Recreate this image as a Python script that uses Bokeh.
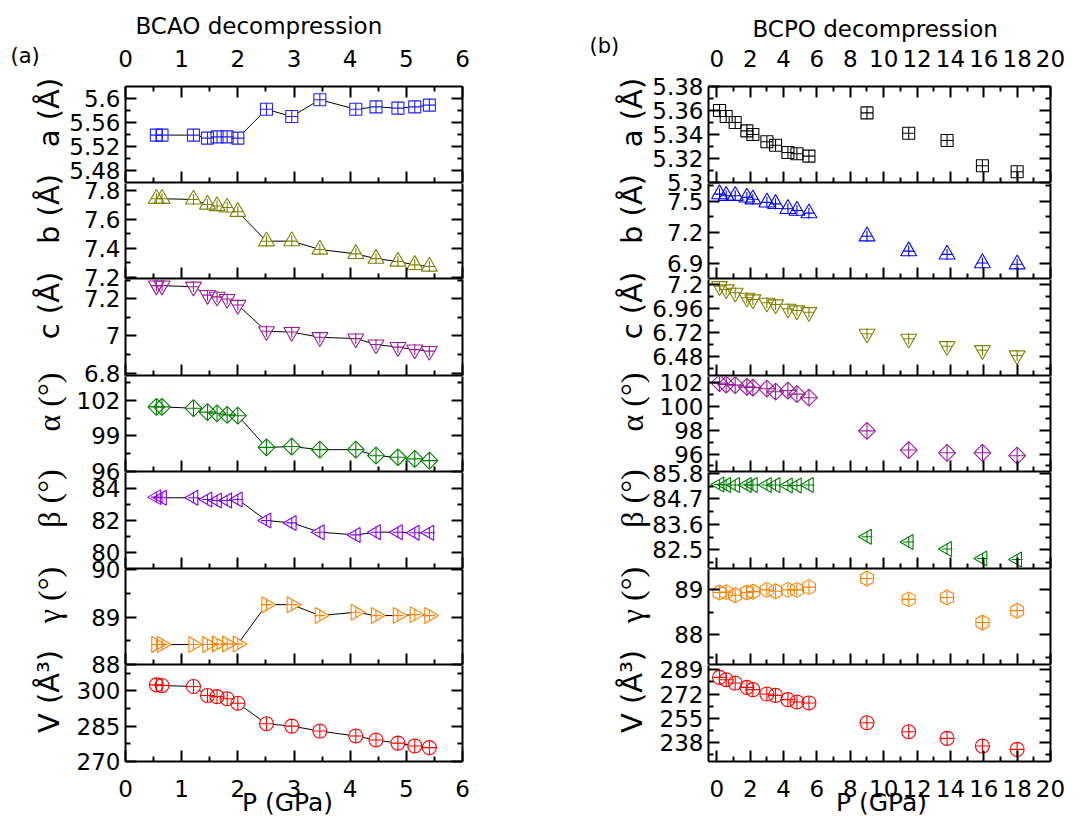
import math
from bokeh.plotting import figure
from bokeh.layouts import row, column
from bokeh.models import (Range1d, LinearAxis, FixedTicker, CustomJSTickFormatter,
                          Label, ColumnDataSource)
from bokeh.embed import file_html
from bokeh.resources import INLINE

# ---------------- BCAO decompression (panel a) ----------------
bcao_P = [0.55, 0.65, 1.21, 1.46, 1.63, 1.81, 2.0, 2.51, 2.96, 3.46, 4.1, 4.46, 4.85, 5.15, 5.41]
bcao_a = [5.539, 5.539, 5.539, 5.534, 5.536, 5.536, 5.534, 5.582, 5.570, 5.598, 5.582, 5.586, 5.584, 5.586, 5.589]
bcao_b = [7.74, 7.74, 7.735, 7.70, 7.69, 7.68, 7.65, 7.447, 7.448, 7.39, 7.36, 7.327, 7.307, 7.284, 7.273]
bcao_c = [7.27, 7.27, 7.264, 7.219, 7.21, 7.198, 7.166, 7.025, 7.021, 6.993, 6.986, 6.954, 6.94, 6.927, 6.919]
bcao_alpha = [101.44, 101.44, 101.33, 101.0, 100.9, 100.77, 100.7, 98.03, 98.1, 97.84, 97.84, 97.33, 97.2, 97.06, 96.92]
bcao_beta = [83.46, 83.42, 83.42, 83.31, 83.25, 83.25, 83.31, 82.0, 81.85, 81.27, 81.1, 81.27, 81.27, 81.23, 81.23]
bcao_gamma = [88.42, 88.42, 88.42, 88.42, 88.43, 88.43, 88.43, 89.26, 89.26, 89.03, 89.1, 89.03, 89.03, 89.05, 89.03]
bcao_V = [302.5, 302.2, 301.8, 298.0, 297.5, 296.6, 294.7, 286.0, 285.0, 282.9, 280.8, 279.1, 277.8, 276.6, 275.9]

# ---------------- BCPO decompression (panel b) ----------------
bcpo_P = [0.16, 0.56, 1.1, 1.8, 2.16, 3.0, 3.52, 4.26, 4.8, 5.52, 9.0, 11.5, 13.8, 15.92, 18.0]
bcpo_a = [5.36, 5.355, 5.350, 5.343, 5.340, 5.334, 5.331, 5.325, 5.324, 5.322, 5.358, 5.341, 5.335, 5.314, 5.309]
bcpo_b = [7.57, 7.554, 7.554, 7.538, 7.52, 7.49, 7.475, 7.427, 7.41, 7.385, 7.16, 7.016, 6.984, 6.9, 6.888]
bcpo_c = [7.183, 7.15, 7.117, 7.067, 7.05, 7.017, 7.0, 6.957, 6.94, 6.923, 6.707, 6.657, 6.583, 6.543, 6.49]
bcpo_alpha = [101.92, 101.8, 101.75, 101.6, 101.55, 101.45, 101.2, 101.3, 101.0, 100.7, 97.93, 96.33, 96.1, 96.1, 95.86]
bcpo_beta = [85.32, 85.3, 85.3, 85.3, 85.3, 85.3, 85.3, 85.28, 85.28, 85.3, 83.07, 82.84, 82.54, 82.13, 82.09]
bcpo_gamma = [88.93, 88.94, 88.87, 88.93, 88.95, 88.99, 88.96, 88.99, 88.99, 89.05, 89.24, 88.78, 88.82, 88.27, 88.53]
bcpo_V = [283.7, 282.0, 279.7, 276.7, 275.1, 272.0, 271.1, 268.1, 266.5, 265.8, 251.9, 245.6, 241.0, 235.6, 233.3]

# ---------------- axis ranges and ticks ----------------
bcao_x_range = [0, 6]
bcao_x_ticks = [0, 1, 2, 3, 4, 5, 6]
bcao_x_minor = [0.5, 1.5, 2.5, 3.5, 4.5, 5.5]
bcpo_x_range = [-0.5, 20]
bcpo_x_ticks = [0, 2, 4, 6, 8, 10, 12, 14, 16, 18, 20]
bcpo_x_minor = [1, 3, 5, 7, 9, 11, 13, 15, 17, 19]

bcao_a_range, bcao_a_ticks, bcao_a_minor = [5.46, 5.62], [5.48, 5.52, 5.56, 5.6], [5.5, 5.54, 5.58]
bcao_b_range, bcao_b_ticks, bcao_b_minor = [7.19, 7.845], [7.2, 7.4, 7.6, 7.8], [7.3, 7.5, 7.7]
bcao_c_range, bcao_c_ticks, bcao_c_minor = [6.788, 7.303], [6.8, 7.0, 7.2], [6.9, 7.1, 7.3]
bcao_alpha_range, bcao_alpha_ticks, bcao_alpha_minor = [96, 104], [96, 99, 102], [97.5, 100.5, 103.5]
bcao_beta_range, bcao_beta_ticks, bcao_beta_minor = [79, 85], [80, 82, 84], [81, 83]
bcao_gamma_range, bcao_gamma_ticks, bcao_gamma_minor = [88, 90], [88, 89, 90], [88.5, 89.5]
bcao_V_range, bcao_V_ticks, bcao_V_minor = [270, 310.7], [270, 285, 300], [277.5, 292.5, 307.5]

bcpo_a_range, bcpo_a_ticks, bcpo_a_minor = [5.30, 5.38], [5.3, 5.32, 5.34, 5.36, 5.38], [5.31, 5.33, 5.35, 5.37]
bcpo_b_range, bcpo_b_ticks, bcpo_b_minor = [6.75, 7.673], [6.9, 7.2, 7.5], [7.05, 7.35, 7.65]
bcpo_c_range, bcpo_c_ticks, bcpo_c_minor = [6.29, 7.25], [6.48, 6.72, 6.96, 7.2], [6.36, 6.6, 6.84, 7.08]
bcpo_alpha_range, bcpo_alpha_ticks, bcpo_alpha_minor = [94.54, 102.47], [96, 98, 100, 102], [95, 97, 99, 101]
bcpo_beta_range, bcpo_beta_ticks, bcpo_beta_minor = [81.7, 85.84], [82.5, 83.6, 84.7, 85.8], [81.95, 83.05, 84.15, 85.25]
bcpo_gamma_range, bcpo_gamma_ticks, bcpo_gamma_minor = [87.34, 89.44], [88, 89], [87.5, 88.5]
bcpo_V_range, bcpo_V_ticks, bcpo_V_minor = [224.8, 292], [238, 255, 272, 289], [229.5, 246.5, 263.5, 280.5]

y_labels = ["a (Å)", "b (Å)", "c (Å)", "α (°)", "β (°)", "γ (°)", "V (Å³)"]
x_label = "P (GPa)"

# ---------------- layout / styling ----------------
LATIN_FONT = "DejaVu Sans"
GREEK_FONT = "Liberation Serif"
TICK_FS = "23px"
FRAME_H = [96, 95, 96, 95, 96, 95, 96]
TOP_B, BOT_B, GAP_B = 86, 66, 16
TOTAL_H = TOP_B + sum(FRAME_H) + (len(FRAME_H) - 1) + BOT_B
OV_PULL = 8   # extra upward pull of the text overlay so that it lines up with the panels

MARKER_STYLE = {
    "square": ("square_cross", 12, 0.0, None),
    "up": ("triangle", 16, 0.0, 11),
    "down": ("inverted_triangle", 16, 0.0, 11),
    "diamond": ("square", 12, math.pi / 4, 16),
    "left": ("triangle", 15, math.pi / 2, 11),
    "right": ("triangle", 16, -math.pi / 2, 11),
    "circle": ("circle_cross", 14, 0.0, None),
    "hex": ("hex", 15, math.pi / 2, 13),
}


def style_axis(ax, show, standoff=0):
    ax.axis_line_width = 2
    ax.axis_line_color = "black"
    ax.major_tick_in = 11
    ax.major_tick_out = 0
    ax.minor_tick_in = 5
    ax.minor_tick_out = 0
    ax.major_tick_line_width = 2
    ax.minor_tick_line_width = 2
    ax.major_tick_line_color = "black"
    ax.minor_tick_line_color = "black"
    if show:
        ax.major_label_text_font = LATIN_FONT
        ax.major_label_text_font_size = TICK_FS
        ax.major_label_text_color = "black"
        ax.major_label_standoff = standoff
    else:
        ax.major_label_text_font_size = "0px"
        ax.major_label_text_color = None
        ax.major_label_standoff = 0


def fmt():
    return CustomJSTickFormatter(code="return String(parseFloat(tick.toFixed(4)));")


def build_column(P, series, ranges, ticks, minors, colors, markers, xr, xt, xm,
                 W, left_b, right_b, connect, texts):
    figs = []
    n = len(series)
    tops = []
    for i in range(n):
        H = FRAME_H[i]
        tops.append(TOP_B + sum(FRAME_H[:i]) + i)
        top_b = TOP_B if i == 0 else GAP_B
        bot_b = BOT_B if i == n - 1 else GAP_B
        p = figure(width=left_b + W + right_b, height=top_b + H + bot_b,
                   x_range=Range1d(*xr), y_range=Range1d(*ranges[i]),
                   x_axis_type=None, y_axis_type=None,
                   output_backend="svg", toolbar_location=None,
                   min_border_left=left_b, min_border_right=right_b,
                   min_border_top=top_b, min_border_bottom=bot_b,
                   background_fill_color=None, border_fill_color=None,
                   outline_line_color=None)
        if i > 0:
            p.margin = (-(2 * GAP_B - 1), 0, 0, 0)

        yl = LinearAxis(ticker=FixedTicker(ticks=ticks[i], minor_ticks=minors[i]), formatter=fmt())
        style_axis(yl, True, 5)
        p.add_layout(yl, "left")
        yrr = LinearAxis(ticker=FixedTicker(ticks=ticks[i], minor_ticks=minors[i]))
        style_axis(yrr, False)
        p.add_layout(yrr, "right")
        xb = LinearAxis(ticker=FixedTicker(ticks=xt, minor_ticks=xm))
        style_axis(xb, i == n - 1, 18)
        p.add_layout(xb, "below")
        if i == 0:
            xa = LinearAxis(ticker=FixedTicker(ticks=xt, minor_ticks=xm))
            style_axis(xa, True, 20)
            p.add_layout(xa, "above")

        src = ColumnDataSource(dict(x=P, y=series[i]))
        base, size, angle, cross = MARKER_STYLE[markers[i]]
        col = colors[i]
        if connect:
            p.line("x", "y", source=src, line_color="black", line_width=1)
            p.scatter("x", "y", source=src, marker=base, size=size, angle=angle,
                      fill_color="white", line_color=None)
        p.scatter("x", "y", source=src, marker=base, size=size, angle=angle,
                  fill_color=None, line_color=col, line_width=1.1)
        if cross:
            p.scatter("x", "y", source=src, marker="cross", size=cross,
                      line_color=col, line_width=1.1)
        figs.append(p)

    # transparent overlay canvas (pixel coordinates) that carries the free texts
    width = left_b + W + right_b
    ov = figure(width=width, height=TOTAL_H,
                x_range=Range1d(0, width), y_range=Range1d(0, TOTAL_H),
                x_axis_type=None, y_axis_type=None,
                output_backend="svg", toolbar_location=None,
                min_border_left=0, min_border_right=0, min_border_top=0, min_border_bottom=0,
                background_fill_color=None, border_fill_color=None, outline_line_color=None)
    if "frame_align" in ov.properties():
        ov.frame_align = False
    ov.margin = (-(TOTAL_H + OV_PULL), 0, 0, 0)
    title, t_dx, t_up, tag, g_dx, g_up, p_dx, lab_dx = texts
    ov.add_layout(Label(x=left_b + t_dx, y=TOTAL_H - (TOP_B - t_up), text=title,
                        text_align="left", text_baseline="alphabetic",
                        text_font=LATIN_FONT, text_font_size="23px", text_color="black"))
    ov.add_layout(Label(x=left_b + g_dx, y=TOTAL_H - (TOP_B - g_up), text=tag,
                        text_align="left", text_baseline="alphabetic",
                        text_font=LATIN_FONT, text_font_size="21px", text_color="black"))
    bottom = tops[-1] + FRAME_H[-1]
    ov.add_layout(Label(x=left_b + p_dx, y=TOTAL_H - (bottom + 49), text=x_label,
                        text_align="center", text_baseline="alphabetic",
                        text_font=LATIN_FONT, text_font_size="25px", text_color="black"))
    for i in range(n):
        txt = y_labels[i]
        greek = txt[0] in "αβγ"
        yc = tops[i] + FRAME_H[i] / 2 - 14
        ov.add_layout(Label(x=left_b + lab_dx, y=TOTAL_H - yc, text=txt,
                            angle=math.pi / 2, text_align="center", text_baseline="middle",
                            text_font=GREEK_FONT if greek else LATIN_FONT,
                            text_font_size="32px" if greek else "29px",
                            text_color="black"))
    figs.append(ov)
    return column(*figs)


left_col = build_column(
    bcao_P,
    [bcao_a, bcao_b, bcao_c, bcao_alpha, bcao_beta, bcao_gamma, bcao_V],
    [bcao_a_range, bcao_b_range, bcao_c_range, bcao_alpha_range, bcao_beta_range, bcao_gamma_range, bcao_V_range],
    [bcao_a_ticks, bcao_b_ticks, bcao_c_ticks, bcao_alpha_ticks, bcao_beta_ticks, bcao_gamma_ticks, bcao_V_ticks],
    [bcao_a_minor, bcao_b_minor, bcao_c_minor, bcao_alpha_minor, bcao_beta_minor, bcao_gamma_minor, bcao_V_minor],
    ["#1f1fff", "#808000", "#9a1a9a", "#008000", "#8000ff", "#ff8000", "#ff0000"],
    ["square", "up", "down", "diamond", "left", "right", "circle"],
    bcao_x_range, bcao_x_ticks, bcao_x_minor,
    W=337, left_b=125, right_b=120, connect=True,
    texts=("BCAO decompression", 10, 53, "(a)", -115, 23, 162, -77))

right_col = build_column(
    bcpo_P,
    [bcpo_a, bcpo_b, bcpo_c, bcpo_alpha, bcpo_beta, bcpo_gamma, bcpo_V],
    [bcpo_a_range, bcpo_b_range, bcpo_c_range, bcpo_alpha_range, bcpo_beta_range, bcpo_gamma_range, bcpo_V_range],
    [bcpo_a_ticks, bcpo_b_ticks, bcpo_c_ticks, bcpo_alpha_ticks, bcpo_beta_ticks, bcpo_gamma_ticks, bcpo_V_ticks],
    [bcpo_a_minor, bcpo_b_minor, bcpo_c_minor, bcpo_alpha_minor, bcpo_beta_minor, bcpo_gamma_minor, bcpo_V_minor],
    ["#000000", "#0000ff", "#808000", "#9a1a9a", "#008000", "#ff8000", "#ff0000"],
    ["square", "up", "down", "diamond", "left", "hex", "circle"],
    bcpo_x_range, bcpo_x_ticks, bcpo_x_minor,
    W=342, left_b=126, right_b=30, connect=False,
    texts=("BCPO decompression", 44, 50, "(b)", -119, 33, 173, -77))

layout = row(left_col, right_col)
open("out.html", "w").write(file_html(layout, INLINE))
